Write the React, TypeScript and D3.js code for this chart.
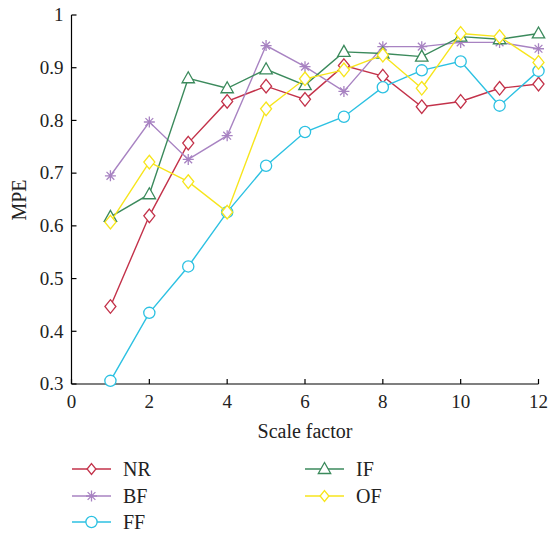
import React from "react";
import * as d3 from "d3";

const scaleFactors = [1, 2, 3, 4, 5, 6, 7, 8, 9, 10, 11, 12];
const xTicks = [0, 2, 4, 6, 8, 10, 12];
const yTicks = [0.3, 0.4, 0.5, 0.6, 0.7, 0.8, 0.9, 1];

const nrValues = [0.447, 0.619, 0.757, 0.836, 0.865, 0.84, 0.904, 0.884, 0.826, 0.836, 0.861, 0.869];
const bfValues = [0.695, 0.797, 0.726, 0.771, 0.942, 0.902, 0.855, 0.94, 0.94, 0.948, 0.948, 0.936];
const ffValues = [0.306, 0.435, 0.523, 0.626, 0.714, 0.778, 0.807, 0.863, 0.895, 0.912, 0.828, 0.894];
const ifValues = [0.617, 0.66, 0.88, 0.861, 0.897, 0.867, 0.93, 0.927, 0.921, 0.959, 0.954, 0.965];
const ofValues = [0.607, 0.721, 0.684, 0.626, 0.822, 0.879, 0.896, 0.924, 0.861, 0.965, 0.959, 0.91];

type Marker = "diamond" | "asterisk" | "circle" | "triangle";
const seriesList: { name: string; values: number[]; color: string; marker: Marker }[] = [
  { name: "NR", values: nrValues, color: "#c3324a", marker: "diamond" },
  { name: "BF", values: bfValues, color: "#a883c2", marker: "asterisk" },
  { name: "FF", values: ffValues, color: "#2cc1e2", marker: "circle" },
  { name: "IF", values: ifValues, color: "#3b8a5c", marker: "triangle" },
  { name: "OF", values: ofValues, color: "#f7e51c", marker: "diamond" },
];

const W = 549;
const H = 534;
const FONT = "'Liberation Serif', 'DejaVu Serif', serif";

const x = d3.scaleLinear().domain([0, 12]).range([71.5, 538.5]);
const y = d3.scaleLinear().domain([0.3, 1]).range([384, 15]);

function MarkerShape({ type, cx, cy, color, s = 1 }: { type: Marker; cx: number; cy: number; color: string; s?: number }) {
  const common = { fill: "none", stroke: color, strokeWidth: 1.3 };
  if (type === "diamond") {
    const hw = 5.5 * s, hh = 6.8 * s;
    return <path d={`M${cx},${cy - hh}L${cx + hw},${cy}L${cx},${cy + hh}L${cx - hw},${cy}Z`} {...common} fill="#fff" />;
  }
  if (type === "circle") {
    return <circle cx={cx} cy={cy} r={5.6 * s} {...common} fill="#fff" />;
  }
  if (type === "triangle") {
    const hw = 6.2 * s;
    return <path d={`M${cx},${cy - 6.5 * s}L${cx + hw},${cy + 4.5 * s}L${cx - hw},${cy + 4.5 * s}Z`} {...common} fill="#fff" />;
  }
  const r = 5.5 * s;
  const lines = [0, 45, 90, 135].map((a) => {
    const rad = (a * Math.PI) / 180;
    return `M${cx - r * Math.cos(rad)},${cy - r * Math.sin(rad)}L${cx + r * Math.cos(rad)},${cy + r * Math.sin(rad)}`;
  });
  return <path d={lines.join("")} {...common} />;
}

export default function App() {
  const line = d3
    .line<number>()
    .x((_, i) => x(scaleFactors[i]))
    .y((v) => y(v));

  const legendPos = [
    { lx: 72, ly: 469 },
    { lx: 72, ly: 496 },
    { lx: 72, ly: 522 },
    { lx: 305, ly: 469 },
    { lx: 305, ly: 496 },
  ];

  return (
    <svg width={W} height={H} style={{ position: "absolute", left: 0, top: 0, background: "#fff" }} fontFamily={FONT}>
      {/* axes */}
      <line x1={x(0)} x2={x(0)} y1={y(1)} y2={y(0.3)} stroke="#000" strokeWidth={1.2} />
      <line x1={x(0)} x2={x(12)} y1={y(0.3)} y2={y(0.3)} stroke="#000" strokeWidth={1.2} />
      {yTicks.map((t) => (
        <g key={`y${t}`}>
          <line x1={x(0)} x2={x(0) + 5} y1={y(t)} y2={y(t)} stroke="#000" strokeWidth={1.2} />
          <text x={x(0) - 8} y={y(t)} dy="0.33em" textAnchor="end" fontSize={19} fill="#222">
            {d3.format("")(t)}
          </text>
        </g>
      ))}
      {xTicks.map((t) => (
        <g key={`x${t}`}>
          <line x1={x(t)} x2={x(t)} y1={y(0.3)} y2={y(0.3) - 5} stroke="#000" strokeWidth={1.2} />
          <text x={x(t)} y={y(0.3) + 24} textAnchor="middle" fontSize={19} fill="#222">
            {t}
          </text>
        </g>
      ))}
      <text x={305} y={438} textAnchor="middle" fontSize={20} fill="#222">Scale factor</text>
      <text transform={`translate(26,200) rotate(-90)`} textAnchor="middle" fontSize={20} fill="#222">MPE</text>

      {/* series */}
      {seriesList.map((s) => (
        <g key={s.name}>
          <path d={line(s.values) || ""} fill="none" stroke={s.color} strokeWidth={1.4} />
          {s.values.map((v, i) => (
            <MarkerShape key={i} type={s.marker} cx={x(scaleFactors[i])} cy={y(v)} color={s.color} />
          ))}
        </g>
      ))}

      {/* legend */}
      {seriesList.map((s, i) => {
        const { lx, ly } = legendPos[i];
        return (
          <g key={`lg${s.name}`}>
            <line x1={lx} x2={lx + 39} y1={ly} y2={ly} stroke={s.color} strokeWidth={1.4} />
            <MarkerShape type={s.marker} cx={lx + 19.5} cy={ly} color={s.color} s={s.marker === "diamond" ? 0.8 : 1} />
            <text x={lx + 51} y={ly} dy="0.33em" fontSize={20} fill="#222">{s.name}</text>
          </g>
        );
      })}
    </svg>
  );
}
